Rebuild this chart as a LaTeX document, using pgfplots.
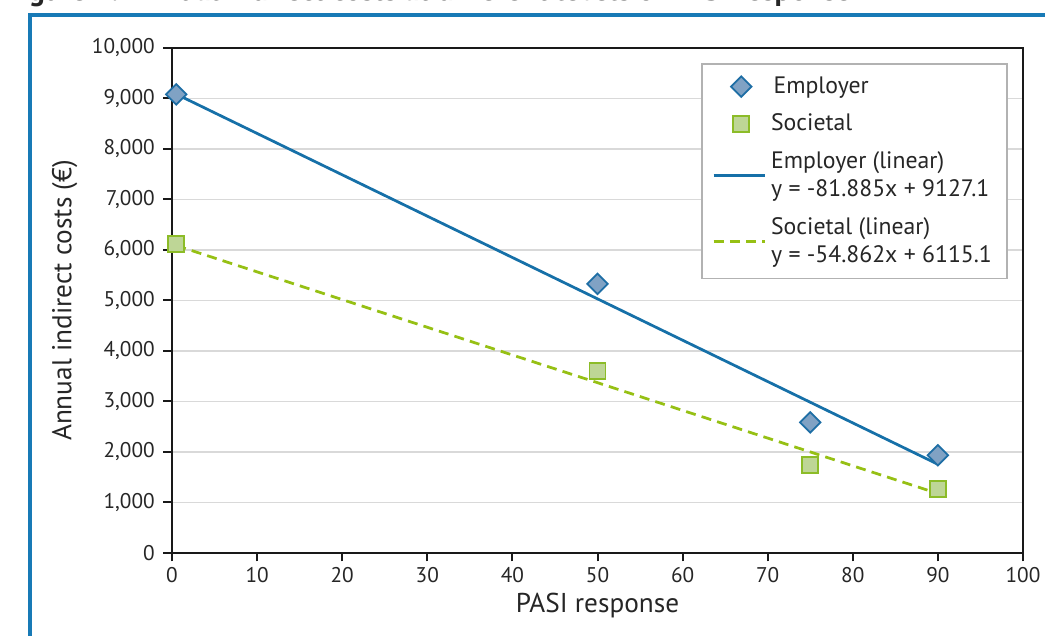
\documentclass[border=0pt]{standalone}
\usepackage{pgfplots}
\pgfplotsset{compat=1.18}
\usepackage{fontspec}
\setmainfont{PT Sans}
\definecolor{frame}{RGB}{24,122,182}
\definecolor{empline}{RGB}{22,112,168}
\definecolor{empfill}{RGB}{128,162,196}
\definecolor{empdraw}{RGB}{30,110,165}
\definecolor{socline}{RGB}{150,192,20}
\definecolor{socfill}{RGB}{190,214,150}
\definecolor{socdraw}{RGB}{140,188,40}
\pgfplotsset{
  markleg/.style={legend image code/.code={\draw[mark repeat=2,mark phase=2,##1] plot coordinates {(0cm,0cm) (0.39cm,0cm) (0.72cm,0cm)};}},
  lineleg/.style={legend image code/.code={\draw[##1] (0cm,0cm) -- (0.72cm,0cm);}},
}
\begin{document}
\begin{tikzpicture}
\useasboundingbox (0,0) rectangle (418pt,254.4pt);
\begin{scope}
\clip (0,0) rectangle (418pt,254.4pt);
\draw[frame, line width=1.3pt] (12pt,248.4pt) rectangle (440pt,-20pt);
\node[anchor=base west, inner sep=0pt, font=\bfseries\fontsize{12}{14}\selectfont, text=black!85] at (2pt,254.0pt) {Figure 4. Annual indirect costs at different levels of PASI response};
\end{scope}
\begin{axis}[
  at={(68.8pt,33.2pt)}, anchor=south west,
  scale only axis, width=340.4pt, height=202pt,
  xmin=0, xmax=100, ymin=0, ymax=10000,
  xtick={0,10,...,100}, ytick={0,1000,...,10000},
  tick align=outside, xtick pos=bottom, ytick pos=left,
  major tick length=3.4pt,
  ymajorgrids, grid style={black!15, line width=0.6pt},
  axis line style={line width=0.9pt, black!90},
  tick style={line width=0.8pt, black!90},
  scaled y ticks=false,
  /pgf/number format/assume math mode=true,
  yticklabel style={/pgf/number format/.cd, 1000 sep={,}},
  ticklabel style={font=\fontsize{8.5}{9}\selectfont, text=black!85},
  xticklabel style={yshift=1pt},
  xlabel={PASI response}, ylabel={Annual indirect costs (€)},
  label style={font=\fontsize{10.9}{12}\selectfont, text=black!85},
  xlabel style={yshift=3pt},
  ylabel style={yshift=-1pt},
  clip=false,
  legend style={at={(0.982,0.97)}, anchor=north east, draw=black!30, line width=0.6pt,
    font=\fontsize{9.5}{11.2}\selectfont, text=black!85, cells={align=left, anchor=west},
    row sep=2.8pt, inner xsep=4pt, inner ysep=3pt},
  lineleg,
  legend cell align=left,
]
\addplot[empline, line width=1.1pt, forget plot] coordinates {(0.5,9086) (90,1757)};
\addplot[socline, line width=1.1pt, dash pattern=on 4pt off 2.5pt, forget plot] coordinates {(0.5,6088) (90,1178)};
\addplot[only marks, mark=square*, mark size=2.9pt, mark options={rotate=45, fill=empfill, draw=empdraw, line width=0.7pt}, markleg]
  coordinates {(0.5,9080) (50,5330) (75,2585) (90,1935)};
\addlegendentry{\hspace{1pt}Employer}
\addplot[only marks, mark=square*, mark size=3.2pt, mark options={fill=socfill, draw=socdraw, line width=0.7pt}, markleg]
  coordinates {(0.5,6125) (50,3600) (75,1740) (90,1260)};
\addlegendentry{Societal}
\addlegendimage{empline, line width=1.1pt, lineleg}
\addlegendentry{Employer (linear)\\y = -81.885x + 9127.1}
\addlegendimage{socline, line width=1.1pt, dash pattern=on 4pt off 2.5pt, lineleg}
\addlegendentry{Societal (linear)\\y = -54.862x + 6115.1}
\end{axis}
\end{tikzpicture}
\end{document}
